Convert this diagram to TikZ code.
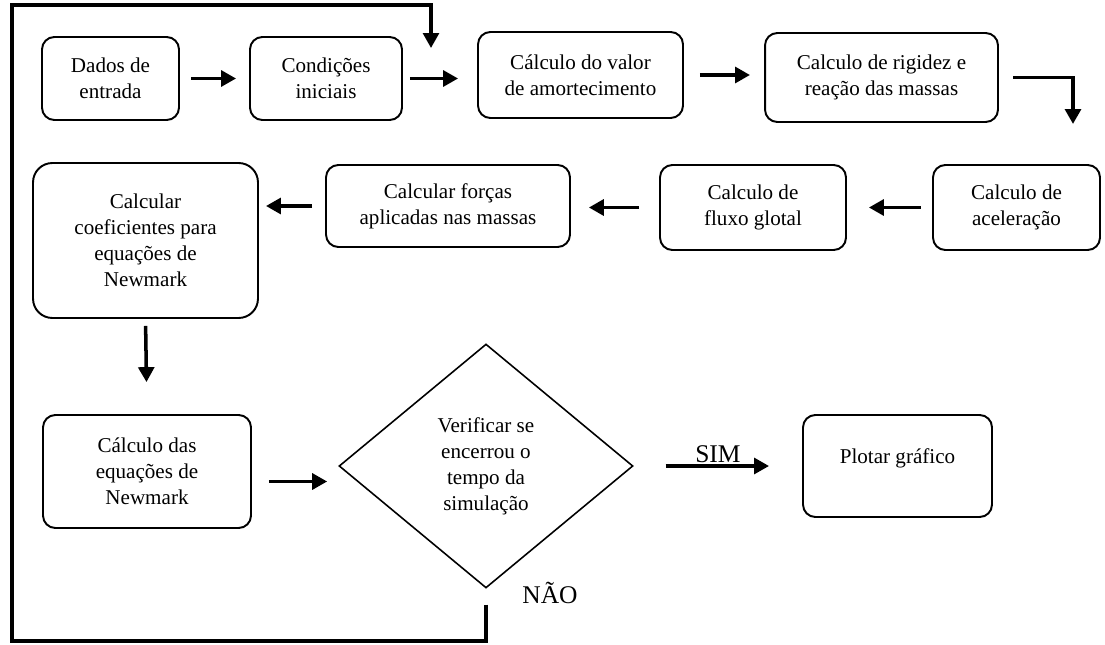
\documentclass[tikz,border=0pt]{standalone}
\usepackage{fontspec}
\setmainfont{Liberation Serif}
\usetikzlibrary{positioning,arrows.meta,calc,shapes.geometric}

\begin{document}
\begin{tikzpicture}[
      x=0.02cm, y=-0.02cm,
      font=\fontsize{12}{14.8}\selectfont,
      box/.style={draw, line width=1.1pt, rounded corners=7pt, align=center, inner sep=2pt},
      decis/.style={draw, diamond, line width=0.9pt, align=center, inner sep=0pt,
                    minimum width=5.88cm, minimum height=4.88cm},
      arr/.style={-{Triangle[length=8.5pt,width=9pt]}, line width=2pt},
      loopline/.style={-{Triangle[length=8.5pt,width=9pt]}, line width=1.8pt},
      lbl/.style={font=\fontsize{14.5}{17}\selectfont, inner sep=1pt},
    ]
    \useasboundingbox (0,0) rectangle (1105,645);

    % ---------- first row ----------
    \node[box, minimum width=2.74cm, minimum height=1.66cm] (dados) at (110.5,78.5) {Dados de\\entrada};
    \node[box, minimum width=3.04cm, minimum height=1.66cm] (cond) at (326,78.5) {Condições\\iniciais};
    \node[box, minimum width=4.10cm, minimum height=1.72cm] (amort) at (580.5,75) {Cálculo do valor\\de amortecimento};
    \node[box, minimum width=4.66cm, minimum height=1.78cm] (rig) at (881.5,77.5) {Calculo de rigidez e\\reação das massas};

    % ---------- second row ----------
    \node[box, minimum width=3.34cm, minimum height=1.70cm] (acel) at (1016.5,207.5) {Calculo de\\aceleração};
    \node[box, minimum width=3.72cm, minimum height=1.70cm] (fluxo) at (753,207.5) {Calculo de\\fluxo glotal};
    \node[box, minimum width=4.88cm, minimum height=1.64cm] (forcas) at (448,206) {Calcular forças\\aplicadas nas massas};
    \node[box, rounded corners=11pt, minimum width=4.50cm, minimum height=3.10cm] (coef) at (145.5,240.5)
      {Calcular\\coeficientes para\\equações de\\Newmark};

    % ---------- third row ----------
    \node[box, minimum width=4.16cm, minimum height=2.26cm] (calc) at (147,471.5) {Cálculo das\\equações de\\Newmark};
    \node[decis] (check) at (486,466) {Verificar se\\encerrou o\\tempo da\\simulação};
    \node[box, minimum width=3.78cm, minimum height=2.04cm] (plot) at (897.5,466) {Plotar gráfico\\[-3pt]\mbox{}};
    \node[lbl] (nao) at ($(check.south)+(64,4)$) {NÃO};

    \coordinate (rturn) at (1073,77.5);
    \coordinate (calcout) at ($(calc.east)+(0,10)$);
    \coordinate (lowleft) at (12,641);
    \coordinate (upleft) at (12,5);
    \coordinate (back) at (431,48);

    % ---------- arrows ----------
    \draw[arr, shorten <=6.3pt, shorten >=7.4pt] (dados.east) -- (cond.west);
    \draw[arr, shorten <=4pt, shorten >=10.8pt] (cond.east) -- (cond.east -| amort.west);
    \draw[arr, shorten <=9.1pt, shorten >=8pt] (amort.east) -- (amort.east -| rig.west);
    \draw[arr, shorten <=8pt, shorten >=22.8pt] (rig.east) -- (rturn) -- (rturn |- acel.north);
    \draw[arr, shorten <=6.3pt, shorten >=12.5pt] (acel.west) -- (fluxo.east);
    \draw[arr, shorten <=11.4pt, shorten >=10.2pt] (fluxo.west) -- (fluxo.west -| forcas.east);
    \draw[arr, shorten <=7.4pt, shorten >=4pt] (forcas.west) -- (forcas.west -| coef.east);
    \draw[arr, shorten <=4pt, shorten >=18.2pt] (coef.south) -- (calc.north);
    \draw[arr, shorten <=9.7pt, shorten >=6.3pt] (calcout) -- (calcout -| check.west);
    \draw[arr, shorten <=18.2pt, shorten >=18.8pt] (check.east) -- (check.east -| plot.west)
      node[lbl, midway, above] {SIM};

    % ---------- loop back ----------
    \draw[loopline, shorten <=9pt] (check.south) |- (lowleft) -- (upleft) -| (back);
  \end{tikzpicture}
\end{document}
